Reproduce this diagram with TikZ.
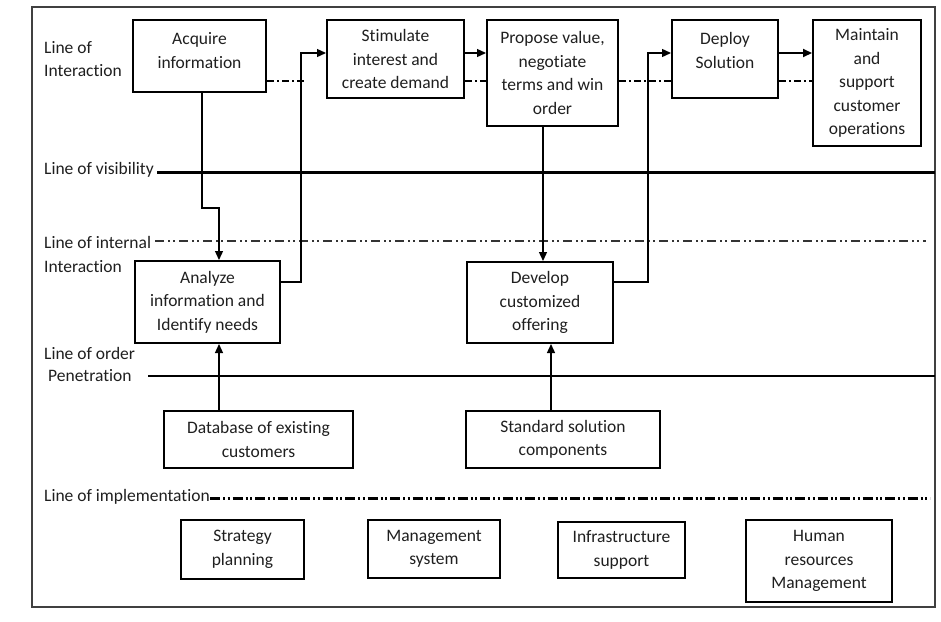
\documentclass[tikz,border=0pt]{standalone}
\usepackage{fontspec}
\setmainfont{Carlito}[Ligatures=NoCommon]
\usetikzlibrary{arrows.meta}
\begin{document}
\begin{tikzpicture}[x=1pt,y=-1pt,
  txtfont/.style={font=\fontsize{17.5}{23.5}\selectfont, text=black!88},
  box/.style={draw=black, line width=2pt, align=center, inner sep=0pt, txtfont},
  boxtxt/.style={align=center, inner sep=0pt, txtfont},
  lbl/.style={anchor=west, inner sep=0pt, align=left, txtfont},
  conn/.style={line width=1.3pt, -{Triangle[length=9pt,width=8pt]}},
  ddot/.style={line width=1.3pt, dash pattern=on 7pt off 3pt on 2pt off 3pt},
  sepsolid/.style={line width=3pt},
  sepint/.style={line width=1.5pt, black!80, dash pattern=on 9pt off 4pt on 2pt off 3pt on 2pt off 4pt},
  sepimpl/.style={line width=3pt, dash pattern=on 10pt off 3pt on 2pt off 2.5pt on 2pt off 3pt}
]
\useasboundingbox (0,0) rectangle (941,621);
\fill[white] (0,0) rectangle (941,621);
\draw[line width=1.5pt, black!75] (32,7) rectangle (935,607);

% left labels
\node[lbl] (l1) at (44,59) {Line of\\Interaction};
\node[lbl] (l2) at (44,170) {Line of visibility};
\node[lbl] (l3a) at (44,242) {Line of internal};
\node[lbl] (l3b) at (44,267) {Interaction};
\node[lbl] (l4a) at (44,353) {Line of order};
\node[lbl] (l4b) at (48,376) {Penetration};
\node[lbl] (l5) at (44,497) {Line of implementation};

% separator lines
\draw[sepsolid] (157,172) -- (935,172);
\draw[sepint] (155,241) -- (926,241);
\draw[line width=2.5pt] (148,376) -- (935,376);
\draw[sepimpl] (210,498) -- (930,498);

% boxes
\node[box, minimum width=133, minimum height=72,
  label={[boxtxt,yshift=5.5pt]center:{Acquire\\information}}] (acq) at (199.5,56) {};
\node[box, minimum width=137, minimum height=78] (stim) at (395.5,59) {Stimulate\\interest and\\create demand};
\node[box, minimum width=131, minimum height=106] (prop) at (552.5,73) {Propose value,\\negotiate\\terms and win\\order};
\node[box, minimum width=106, minimum height=78,
  label={[boxtxt,yshift=8.5pt]center:{Deploy\\Solution}}] (depl) at (725,59) {};
\node[box, minimum width=108, minimum height=126] (maint) at (867,83) {Maintain\\and\\support\\customer\\operations};
\node[box, minimum width=145, minimum height=82] (ana) at (207.5,302) {Analyze\\information and\\Identify needs};
\node[box, minimum width=146, minimum height=81] (dev) at (540,302.5) {Develop\\customized\\offering};
\node[box, minimum width=189, minimum height=57] (db) at (258.5,439.5) {Database of existing\\customers};
\node[box, minimum width=194, minimum height=57] (std) at (563,439.5) {Standard solution\\components};
\node[box, minimum width=123, minimum height=59] (strat) at (242.5,549.5) {Strategy\\planning};
\node[box, minimum width=132, minimum height=58] (mgmt) at (434,549) {Management\\system};
\node[box, minimum width=127, minimum height=56] (infra) at (621.5,550) {Infrastructure\\support};
\node[box, minimum width=146, minimum height=82] (hr) at (819,561) {Human\\resources\\Management};

% interaction dash-dot segments
\draw[ddot] ([yshift=-25pt]acq.east) -- ++(37,0);
\draw[ddot] ([yshift=-22pt]stim.east) -- ([yshift=-8pt]prop.west);
\draw[ddot] ([yshift=-8pt]prop.east) -- ([yshift=-22pt]depl.west);
\draw[ddot] ([yshift=-22pt]depl.east) -- ([yshift=2pt]maint.west);

% connectors
\draw[conn] ([xshift=2.5pt]acq.south) -- ++(0,115) -| ([xshift=11.5pt]ana.north);
\draw[conn] ([yshift=20pt]ana.east) -- ++(20,0) |- ([yshift=6pt]stim.west);
\draw[conn] ([yshift=6pt]stim.east) -- ([yshift=20pt]prop.west);
\draw[conn] ([xshift=-9.5pt]prop.south) -- ([xshift=3pt]dev.north);
\draw[conn] ([yshift=20.5pt]dev.east) -- ++(34,0) |- ([yshift=6pt]depl.west);
\draw[conn, line width=2pt] ([yshift=6pt]depl.east) -- ([yshift=30pt]maint.west);
\draw[conn] ([xshift=-39.5pt]db.north) -- ([xshift=11.5pt]ana.south);
\draw[conn] ([xshift=-12pt]std.north) -- ([xshift=11pt]dev.south);
\end{tikzpicture}
\end{document}
